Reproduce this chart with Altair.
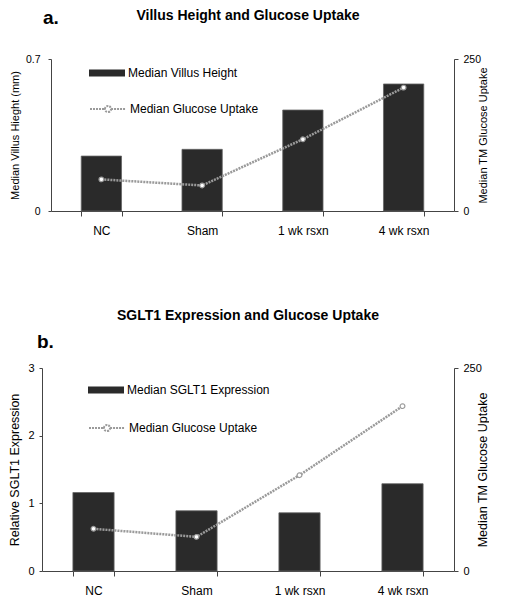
import altair as alt
import pandas as pd

categories = ["NC", "Sham", "1 wk rsxn", "4 wk rsxn"]
villus_height = [0.253, 0.284, 0.465, 0.585]
sglt1_expr = [1.16, 0.89, 0.86, 1.29]
glucose_uptake = [52, 42, 118, 203]

FONT = "Liberation Sans"
BAR_COLOR = "#2a2a2a"
LINE_COLOR = "#9a9a9a"
BAR_SYMBOL = "M-1,-0.2L1,-0.2L1,0.2L-1,0.2Z"
LINE_SYMBOL = ("M-1,0L-0.17,0M0.17,0L1,0M-0.17,0A0.17,0.17,0,1,1,0.17,0"
               "A0.17,0.17,0,1,1,-0.17,0")


def panel(bar_values, bar_label, left_title, left_domain, left_ticks,
          title, tag, w, inset, h, leg_x, leg_y_bar, leg_y_line, tag_x, tag_y,
          title_offset, axis_font, tick_font, label_pad, title_pad):
    df = pd.DataFrame({
        "cat": categories,
        "bar": bar_values,
        "glu": glucose_uptake,
        "bar_series": [bar_label] * len(categories),
        "line_series": ["Median Glucose Uptake"] * len(categories),
    })
    xenc = alt.X("cat:N", sort=categories, title=None,
                 scale=alt.Scale(paddingInner=0.6, paddingOuter=0.3,
                                 range=[inset, w]),
                 axis=alt.Axis(labelAngle=0, tickBand="extent", tickSize=5,
                               labelPadding=9, labelFontSize=12, labelFont=FONT,
                               labelColor="#000", domainColor="#444",
                               tickColor="#444", grid=False))
    bars = alt.Chart(df).mark_bar(stroke="#666", strokeWidth=0.8).encode(
        x=xenc,
        y=alt.Y("bar:Q", title=left_title,
                scale=alt.Scale(domain=left_domain, nice=False),
                axis=alt.Axis(values=left_ticks, format="~g", tickSize=3,
                              grid=False, offset=-inset,
                              labelPadding=label_pad, labelFontSize=tick_font,
                              labelFont=FONT, labelColor="#000",
                              titleFont=FONT, titleFontSize=axis_font,
                              titleFontWeight="normal", titleColor="#000",
                              titlePadding=title_pad, domainColor="#444",
                              tickColor="#444")),
        fill=alt.Fill("bar_series:N",
                      scale=alt.Scale(range=[BAR_COLOR]),
                      legend=alt.Legend(title=None, orient="none",
                                        legendX=leg_x, legendY=leg_y_bar,
                                        symbolType=BAR_SYMBOL, symbolSize=1296,
                                        symbolStrokeWidth=0, padding=0,
                                        labelOffset=3, labelFontSize=12,
                                        labelFont=FONT, labelColor="#000")),
    )
    line = alt.Chart(df).mark_line(
        strokeWidth=2.5, strokeDash=[2, 1],
        point=alt.OverlayMarkDef(filled=True, fill="white", size=22,
                                 strokeWidth=1.2, strokeDash=[1, 0]),
    ).encode(
        x=alt.X("cat:N", sort=categories),
        y=alt.Y("glu:Q", title="Median TM Glucose Uptake",
                scale=alt.Scale(domain=[0, 250], nice=False),
                axis=alt.Axis(orient="right", values=[0, 250], tickSize=4,
                              grid=False, labelPadding=5,
                              labelFontSize=tick_font,
                              labelFont=FONT, labelColor="#000",
                              titleFont=FONT, titleFontSize=axis_font,
                              titleFontWeight="normal", titleColor="#000",
                              titleAngle=270, titlePadding=8,
                              domainColor="#444", tickColor="#444")),
        stroke=alt.Stroke("line_series:N",
                          scale=alt.Scale(range=[LINE_COLOR]),
                          legend=alt.Legend(title=None, orient="none",
                                            legendX=leg_x, legendY=leg_y_line,
                                            symbolType=LINE_SYMBOL,
                                            symbolSize=1296,
                                            symbolStrokeWidth=2,
                                            symbolFillColor="white",
                                            symbolDash=[2, 1], padding=0,
                                            labelOffset=3, labelFontSize=12,
                                            labelFont=FONT, labelColor="#000")),
    )
    tag_df = pd.DataFrame({"t": [tag]})
    tag_mark = alt.Chart(tag_df).mark_text(
        fontSize=19, fontWeight="bold", font=FONT, align="left",
        baseline="alphabetic", color="#000",
    ).encode(text="t:N", x=alt.value(tag_x), y=alt.value(tag_y))
    return alt.layer(bars, line, tag_mark).resolve_scale(
        y="independent"
    ).properties(
        width=w, height=h,
        title=alt.TitleParams(title, fontSize=14, fontWeight="bold", font=FONT,
                              anchor="middle", offset=title_offset,
                              color="#000"),
    )


panel_a = panel(villus_height, "Median Villus Height",
                "Median Villus Hieght (mm)", [0, 0.7], [0, 0.7],
                "Villus Height and Glucose Uptake", "a.", 412, 9, 152,
                47, -4, 31, 1, -35.5, -14, 11, 10.5, 8, 5)
panel_b = panel(sglt1_expr, "Median SGLT1 Expression",
                "Relative SGLT1 Expression", [0, 3], [0, 1, 2, 3],
                "SGLT1 Expression and Glucose Uptake", "b.", 412, 0, 203,
                46, 4, 41, -5, -20, 10, 12.5, 11, 5, 6)

chart = alt.concat(panel_a, panel_b, columns=1, spacing=73).properties(
    padding={"left": 0, "top": 0, "right": 0, "bottom": 0},
).resolve_scale(
    fill="independent", stroke="independent"
).resolve_legend(
    fill="independent", stroke="independent"
).configure_view(stroke=None)

chart.save("out.html", embed_options={"renderer": "svg", "actions": False})
